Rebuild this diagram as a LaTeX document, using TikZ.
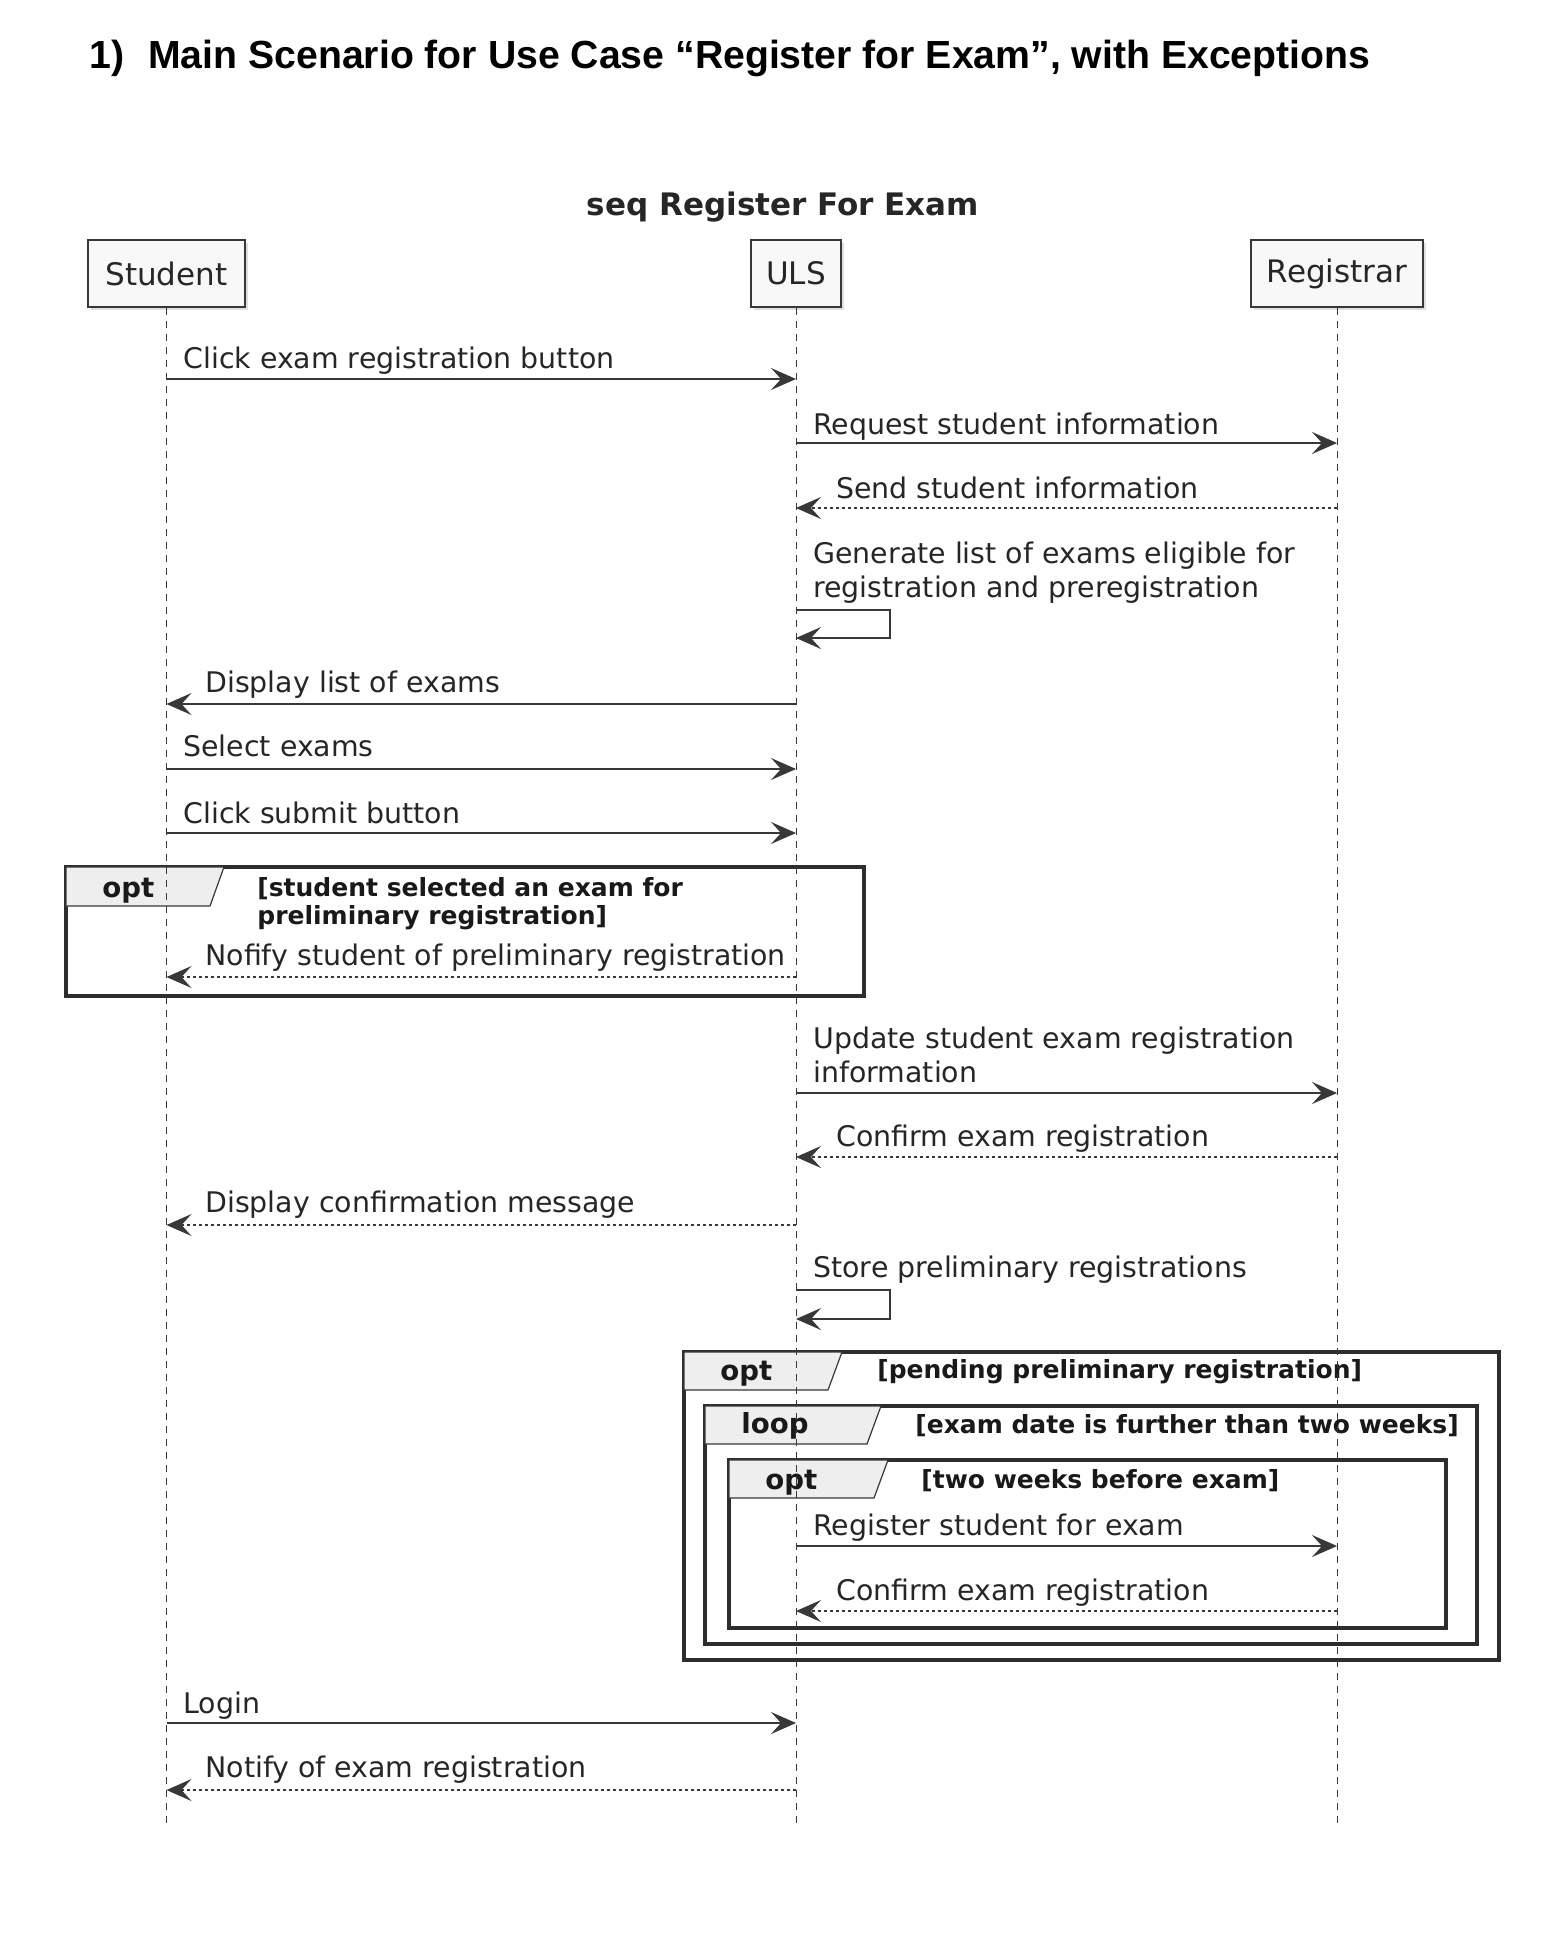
\documentclass[tikz,border=0pt]{standalone}
\usepackage{fontspec}
\setmainfont{DejaVu Sans}
\newfontfamily\titlefont{Liberation Sans}
\usetikzlibrary{arrows.meta, positioning, shadows}
\definecolor{umlline}{HTML}{383838}
\definecolor{umlfill}{HTML}{F8F8F8}
\definecolor{tabfill}{HTML}{EEEEEE}

\begin{document}
\begin{tikzpicture}[x=0.5pt, y=-0.5pt,
  part/.style={draw=umlline, line width=0.75pt, fill=umlfill, minimum height=33.5pt, inner sep=0pt,
    font=\fontsize{15.5}{18}\selectfont, text=black!85,
    drop shadow={shadow xshift=1.5pt, shadow yshift=-1.5pt, opacity=0.25}},
  lifeline/.style={draw=umlline, line width=0.5pt, dash pattern=on 3.5pt off 3pt},
  msg/.style={draw=umlline, line width=0.8pt, -{Stealth[length=12.5pt, width=11pt, inset=5pt]}},
  reply/.style={msg, dash pattern=on 1.5pt off 1.5pt},
  lbl/.style={anchor=base west, inner sep=0pt, font=\fontsize{14.2}{17}\selectfont, text=black!85, align=left},
  frame/.style={draw=umlline!80!black, line width=1.6pt},
  tab/.style={draw=umlline, line width=0.6pt, fill=tabfill},
  tabtxt/.style={anchor=base west, inner sep=0pt, font=\bfseries\fontsize{13.8}{16}\selectfont, text=black!90},
  cond/.style={anchor=base west, inner sep=0pt, font=\bfseries\fontsize{12.5}{14}\selectfont, align=left, text=black!90}]

  \fill[white] (0,0) rectangle (1545,1948);
  \useasboundingbox (0,0) rectangle (1545,1948);

  % headings
  \node[anchor=base west, inner sep=0pt, font=\titlefont\bfseries\fontsize{19.6}{22}\selectfont] (title) at (89,69)
    {1)\hspace{12pt}Main Scenario for Use Case “Register for Exam”, with Exceptions};
  \node[anchor=base, inner sep=0pt, font=\bfseries\fontsize{15.5}{18}\selectfont, text=black!85] (seqtitle) at (783,215)
    {seq Register For Exam};

  % participants
  \node[part, minimum width=78.5pt] (stu) at (166.5,273.5) {Student};
  \node[part, minimum width=45pt] (uls) at (796,273.5) {ULS};
  \node[part, minimum width=86pt] (reg) at (1337,273.5) {Registrar};

  % frames
  \draw[frame] (66,867) rectangle (864,996);
  \draw[tab] (66,867) -- (224,867) -- (210,906) -- (66,906) -- cycle;
  \node[tabtxt] (opt1) at (102,897) {opt};
  \node[cond] (cond1) at (257,924) {[student selected an exam for\\preliminary registration]};

  \draw[frame] (684,1352) rectangle (1499,1660);
  \draw[tab] (684,1352) -- (842,1352) -- (828,1390) -- (684,1390) -- cycle;
  \node[tabtxt] (opt2) at (720,1380) {opt};
  \node[cond] (cond2) at (877,1378) {[pending preliminary registration]};

  \draw[frame] (705,1406) rectangle (1477,1644);
  \draw[tab] (705,1406) -- (881,1406) -- (867,1444) -- (705,1444) -- cycle;
  \node[tabtxt] (loop1) at (741,1433) {loop};
  \node[cond] (cond3) at (915,1433) {[exam date is further than two weeks]};

  \draw[frame] (729,1460) rectangle (1446,1628);
  \draw[tab] (729,1460) -- (888,1460) -- (874,1498) -- (729,1498) -- cycle;
  \node[tabtxt] (opt3) at (765,1489) {opt};
  \node[cond] (cond4) at (921,1488) {[two weeks before exam]};

  % lifelines
  \coordinate (stuend) at (166.5,1823);
  \coordinate (ulsend) at (796,1823);
  \coordinate (regend) at (1337,1823);
  \draw[lifeline] (stu) -- (stuend);
  \draw[lifeline] (uls) -- (ulsend);
  \draw[lifeline] (reg) -- (regend);

  % messages
  \draw[msg] (stu |- 0,379) -- (uls |- 0,379);
  \node[lbl] (m1) at (183,368) {Click exam registration button};
  \draw[msg] (uls |- 0,443) -- (reg |- 0,443);
  \node[lbl] (m2) at (813,434) {Request student information};
  \draw[reply] (reg |- 0,508) -- (uls |- 0,508);
  \node[lbl] (m3) at (836,498) {Send student information};
  \draw[msg] (uls |- 0,610) -- ++(94,0) |- (uls |- 0,638);
  \node[lbl] (m4) at (813,597) {Generate list of exams eligible for\\registration and preregistration};
  \draw[msg] (uls |- 0,704) -- (stu |- 0,704);
  \node[lbl] (m5) at (205,692) {Display list of exams};
  \draw[msg] (stu |- 0,769) -- (uls |- 0,769);
  \node[lbl] (m6) at (183,756) {Select exams};
  \draw[msg] (stu |- 0,833) -- (uls |- 0,833);
  \node[lbl] (m7) at (183,823) {Click submit button};
  \draw[reply] (uls |- 0,977) -- (stu |- 0,977);
  \node[lbl] (m8) at (205,965) {Nofify student of preliminary registration};
  \draw[msg] (uls |- 0,1093) -- (reg |- 0,1093);
  \node[lbl] (m9) at (813,1082) {Update student exam registration\\information};
  \draw[reply] (reg |- 0,1157) -- (uls |- 0,1157);
  \node[lbl] (m10) at (836,1146) {Confirm exam registration};
  \draw[reply] (uls |- 0,1225) -- (stu |- 0,1225);
  \node[lbl] (m11) at (205,1212) {Display confirmation message};
  \draw[msg] (uls |- 0,1290) -- ++(94,0) |- (uls |- 0,1319);
  \node[lbl] (m12) at (813,1277) {Store preliminary registrations};
  \draw[msg] (uls |- 0,1546) -- (reg |- 0,1546);
  \node[lbl] (m13) at (813,1535) {Register student for exam};
  \draw[reply] (reg |- 0,1611) -- (uls |- 0,1611);
  \node[lbl] (m14) at (836,1600) {Confirm exam registration};
  \draw[msg] (stu |- 0,1723) -- (uls |- 0,1723);
  \node[lbl] (m15) at (183,1713) {Login};
  \draw[reply] (uls |- 0,1790) -- (stu |- 0,1790);
  \node[lbl] (m16) at (205,1777) {Notify of exam registration};
\end{tikzpicture}
\end{document}
